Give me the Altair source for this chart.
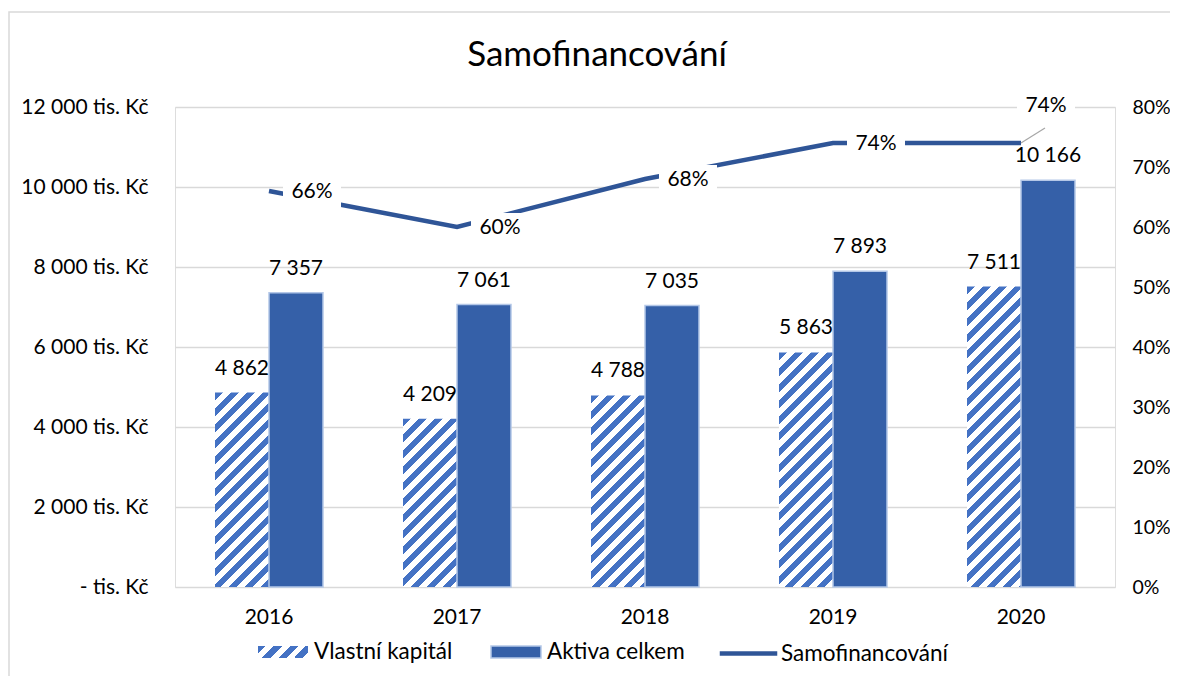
import altair as alt
import pandas as pd

# ---------------- data ----------------
years = ["2016", "2017", "2018", "2019", "2020"]
vlastni_kapital = [4862, 4209, 4788, 5863, 7511]
aktiva_celkem = [7357, 7061, 7035, 7893, 10166]
samofinancovani = [0.66, 0.60, 0.68, 0.74, 0.74]
series_names = ["Vlastní kapitál", "Aktiva celkem", "Samofinancování"]
left_ticks = [0, 2000, 4000, 6000, 8000, 10000, 12000]
right_ticks = [0.0, 0.1, 0.2, 0.3, 0.4, 0.5, 0.6, 0.7, 0.8]

# ---------------- styles ----------------
W, H = 940, 480
Y_MAX = 12000
BAR_W = 54
HATCH = "#4472c4"
BAR = "#3560a8"
BAR_EDGE = "#b4c7e7"
LINE = "#2f5597"
GRID = "#d9d9d9"
FONT = "Lato"
TXT = "#000000"
FS = 21
LEG_FS = 22.5
LEG_W, LEG_H = 50, 12

df = pd.DataFrame({"year": years, "vk": vlastni_kapital, "ak": aktiva_celkem, "sf": samofinancovani})


def hatch_stops(w, h, period=16.0, frac=0.5):
    total = w + h
    stops = []
    s = 0.0
    while s < total:
        a = round(s / total, 5)
        b = round(min((s + period * frac) / total, 1.0), 5)
        c = round(min((s + period) / total, 1.0), 5)
        stops += [
            {"offset": a, "color": HATCH},
            {"offset": b, "color": HATCH},
            {"offset": b, "color": "#ffffff"},
            {"offset": c, "color": "#ffffff"},
        ]
        s += period
    return stops


def hatch_gradient(w, h):
    k = (w + h) / (w * w + h * h)
    return alt.Gradient(gradient="linear", x1=0, y1=0, x2=round(w * k, 5), y2=round(h * k, 5),
                        stops=[alt.GradientStop(**s) for s in hatch_stops(w, h)])


x_enc = alt.X("year:N", scale=alt.Scale(domain=years, paddingInner=0, paddingOuter=0),
              axis=alt.Axis(title=None, labelAngle=0, domain=False, ticks=False, labelPadding=19,
                            labelFontSize=FS, labelFont=FONT, labelColor=TXT, grid=False))

left_axis = alt.Axis(title=None, values=left_ticks, grid=True, gridColor=GRID, gridWidth=1.3,
                     domain=False, ticks=False, labelPadding=27, labelFontSize=FS, labelFont=FONT,
                     labelColor=TXT,
                     labelExpr="datum.value == 0 ? '- tis. Kč' : replace(format(datum.value, ','), ',', ' ') + ' tis. Kč'")
left_scale = alt.Scale(domain=[0, Y_MAX], nice=False)


def yl(field):
    return alt.Y(field, type="quantitative", scale=left_scale, axis=left_axis)


right_axis = alt.Axis(title=None, orient="right", values=right_ticks, format=".0%", grid=False,
                      domain=False, ticks=False, labelPadding=17, labelFontSize=19.5, labelFont=FONT,
                      labelColor=TXT)
right_scale = alt.Scale(domain=[0, 0.8], nice=False)


def yr(field):
    return alt.Y(field, type="quantitative", scale=right_scale, axis=right_axis)


def legend_at(x, y, shape, **kw):
    return alt.Legend(orient="none", legendX=x, legendY=y, title=None, labelFontSize=LEG_FS,
                      labelFont=FONT, labelColor=TXT, symbolSize=LEG_W * LEG_W, symbolType=shape,
                      labelOffset=5, padding=0, symbolOpacity=1, labelLimit=400, **kw)


RECT_SHAPE = "M-1,-{0}L1,-{0}L1,{0}L-1,{0}Z".format(round(LEG_H / LEG_W, 4))
LINE_SHAPE = "M-1.15,0L1.15,0"
LEG_Y = 519

base = alt.Chart(df)

# frame around the whole chart
frame = alt.Chart(pd.DataFrame({"f": [0]})).mark_rect(
    fill="transparent", stroke=GRID, strokeWidth=1.5
).encode(x=alt.value(-166), x2=alt.value(1200), y=alt.value(-95), y2=alt.value(700))

# hatched bars (one layer per bar so the stripe angle is constant)
hatch_layers = []
for yv, v in zip(years, vlastni_kapital):
    h = v * H / Y_MAX
    hatch_layers.append(
        base.transform_filter(alt.datum.year == yv).mark_bar(
            width=BAR_W, xOffset=-BAR_W / 2, fill=hatch_gradient(BAR_W, h), strokeWidth=0
        ).encode(x=x_enc, y=yl("vk"))
    )

# legend-only layer for the hatched series
hatch_legend = base.transform_filter("false").transform_calculate(s="'Vlastní kapitál'").mark_bar(
    fill=hatch_gradient(LEG_W, LEG_H), strokeWidth=0
).encode(
    opacity=alt.Opacity("s:N", scale=alt.Scale(domain=[series_names[0]], range=[1]),
                        legend=legend_at(82, LEG_Y, RECT_SHAPE))
)

aktiva_bars = base.transform_calculate(s="'Aktiva celkem'").mark_bar(
    width=BAR_W, xOffset=BAR_W / 2, stroke=BAR_EDGE, strokeWidth=1.5
).encode(
    x=x_enc, y=yl("ak"),
    fill=alt.Fill("s:N", scale=alt.Scale(domain=[series_names[1]], range=[BAR]),
                  legend=legend_at(315, LEG_Y, RECT_SHAPE)),
)

lbl_expr = "replace(format(datum.{f}, ','), ',', ' ')"
vk_text = base.transform_calculate(t=lbl_expr.format(f="vk")).mark_text(
    dx=-BAR_W / 2, dy=-18, baseline="alphabetic", align="center", font=FONT, fontSize=FS, color=TXT
).encode(x=x_enc, y=yl("vk"), text="t:N")
ak_text = base.transform_calculate(t=lbl_expr.format(f="ak")).mark_text(
    dx=BAR_W / 2, dy=-18, baseline="alphabetic", align="center", font=FONT, fontSize=FS, color=TXT
).encode(x=x_enc, y=yl("ak"), text="t:N")

left = alt.layer(frame, *hatch_layers, hatch_legend, aktiva_bars, vk_text, ak_text)

# line on the right axis
line = base.transform_calculate(s="'Samofinancování'").mark_line(strokeWidth=4.5).encode(
    x=x_enc, y=yr("sf"),
    stroke=alt.Stroke("s:N", scale=alt.Scale(domain=[series_names[2]], range=[LINE]),
                      legend=legend_at(546, LEG_Y, LINE_SHAPE, symbolStrokeWidth=4.5)),
)

BOX = "M-1,-0.52L1,-0.52L1,0.52L-1,0.52Z"
box_main = base.transform_filter(alt.datum.year != "2020").mark_point(
    shape=BOX, size=58 * 58, filled=True, fill="white", opacity=1, strokeWidth=0, xOffset=43, yOffset=1
).encode(x=x_enc, y=yr("sf"))
box_last = base.transform_filter(alt.datum.year == "2020").mark_point(
    shape=BOX, size=58 * 58, filled=True, fill="white", opacity=1, strokeWidth=0, xOffset=25, yOffset=-37
).encode(x=x_enc, y=yr("sf"))
leader = base.transform_filter(alt.datum.year == "2020").mark_rule(
    color="#a6a6a6", strokeWidth=1.2, x2Offset=24, y2Offset=-15
).encode(x=alt.X("year:N", bandPosition=0.5), x2=alt.X2("year:N", bandPosition=0.5),
         y=yr("sf"), y2=alt.Y2("sf:Q"))
pct_main = base.transform_filter(alt.datum.year != "2020").mark_text(
    dx=43, dy=1, align="center", baseline="middle", font=FONT, fontSize=FS, color=TXT
).encode(x=x_enc, y=yr("sf"), text=alt.Text("sf:Q", format=".0%"))
pct_last = base.transform_filter(alt.datum.year == "2020").mark_text(
    dx=25, dy=-37, align="center", baseline="middle", font=FONT, fontSize=FS, color=TXT
).encode(x=x_enc, y=yr("sf"), text=alt.Text("sf:Q", format=".0%"))

right = alt.layer(line, box_main, box_last, leader, pct_main, pct_last)

chart = alt.layer(left, right).resolve_scale(y="independent").properties(
    width=W, height=H,
    autosize=alt.AutoSizeParams(type="none"),
    padding={"left": 167, "top": 99, "right": 55, "bottom": 89},
    title=alt.TitleParams("Samofinancování", font=FONT, fontSize=35, fontWeight="normal", color=TXT,
                          anchor="middle", frame="group", baseline="alphabetic",
                          dx=-48, offset=0, dy=90),
).configure_view(stroke=None).configure(background="white")

chart.save("out.html", embed_options={"renderer": "svg", "actions": False})
